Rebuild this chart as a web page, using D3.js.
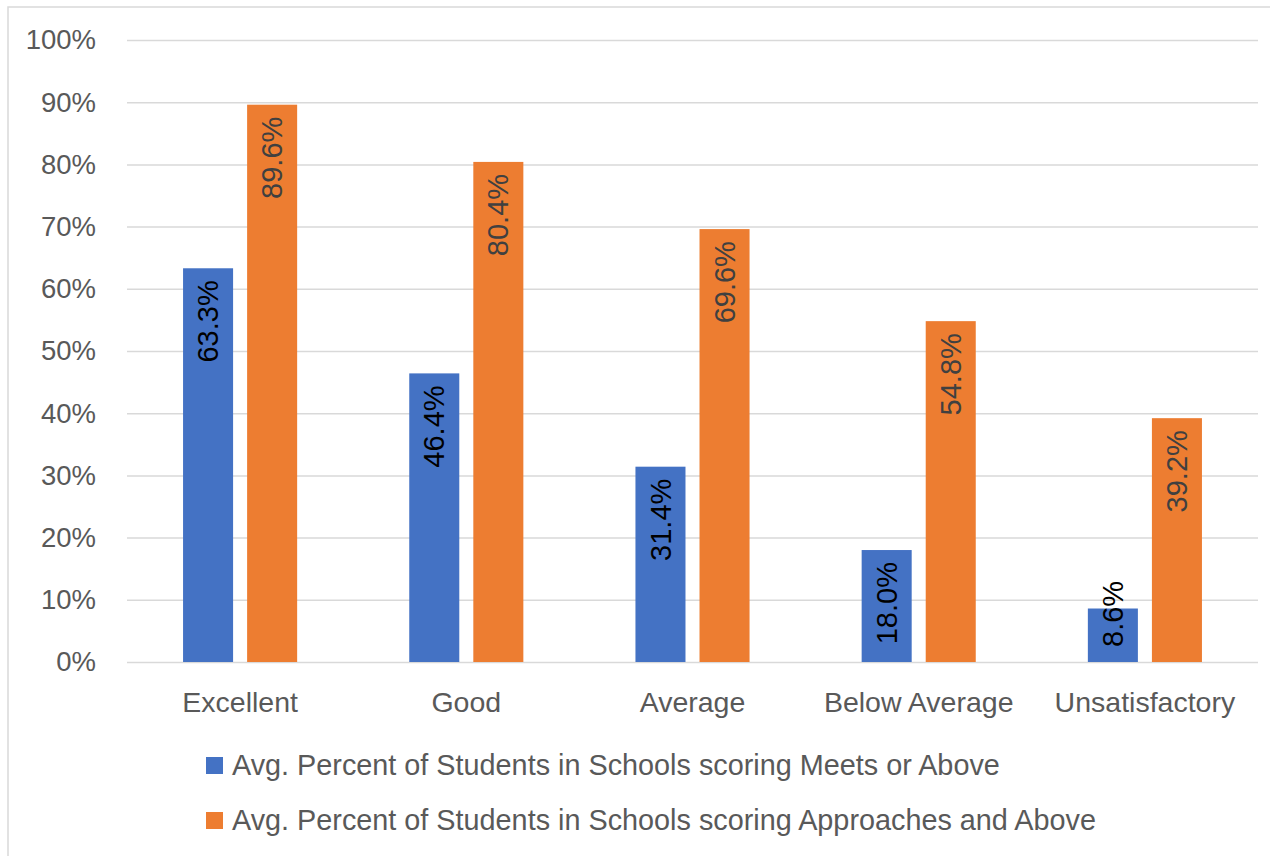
<!DOCTYPE html>
<html>
<head>
<meta charset="utf-8">
<script src="https://cdn.jsdelivr.net/npm/d3@7"></script>
<style>
  body { margin: 0; background: #fff; }
  text { font-family: "Liberation Sans", Arial, sans-serif; }
</style>
</head>
<body>
<script>
var categories = ['Excellent', 'Good', 'Average', 'Below Average', 'Unsatisfactory'];
var seriesNames = [
  'Avg. Percent of Students in Schools scoring Meets or Above',
  'Avg. Percent of Students in Schools scoring Approaches and Above'
];
var meetsValues = [63.3, 46.4, 31.4, 18.0, 8.6];
var approachesValues = [89.6, 80.4, 69.6, 54.8, 39.2];
var yTicks = [0, 10, 20, 30, 40, 50, 60, 70, 80, 90, 100];
var colors = ['#4472C4', '#ED7D31'];
var labelColors = ['#000000', '#404040'];

var fullWidth = 1270;
var fullHeight = 856;
var margin = {top: 40, right: 12, bottom: 194, left: 127};
var width = fullWidth - margin.left - margin.right;
var height = fullHeight - margin.top - margin.bottom;

var svgRoot = d3.select('body').append('svg')
  .attr('width', fullWidth)
  .attr('height', fullHeight);

// outer chart border (only left/top visible in the crop)
svgRoot.append('rect')
  .attr('x', 8).attr('y', 7)
  .attr('width', fullWidth + 10).attr('height', fullHeight + 10)
  .attr('fill', 'none')
  .attr('stroke', '#d9d9d9')
  .attr('stroke-width', 1.5);

var svg = svgRoot.append('g')
  .attr('transform', 'translate(' + margin.left + ',' + margin.top + ')');

var x0 = d3.scaleBand()
  .domain(categories)
  .range([0, width])
  .padding(0);

var x1 = d3.scaleBand()
  .domain([0, 1])
  .range([0, x0.bandwidth()])
  .paddingInner(0.219)
  .paddingOuter(0.875);

var y = d3.scaleLinear()
  .domain([0, 100])
  .range([height, 0]);

// gridlines
var yAxis = d3.axisLeft(y)
  .tickValues(yTicks)
  .tickSize(-width)
  .tickPadding(31)
  .tickFormat(function(d) { return d + '%'; });

var yAxisEle = svg.append('g')
  .classed('y axis', true)
  .call(yAxis);
yAxisEle.select('.domain').remove();
yAxisEle.selectAll('line')
  .attr('stroke', '#d9d9d9')
  .attr('stroke-width', 1.5);
yAxisEle.selectAll('text')
  .attr('fill', '#595959')
  .style('font-size', '27.5px');

// x axis labels
var xAxis = d3.axisBottom(x0).tickSize(0).tickPadding(30);
var xAxisEle = svg.append('g')
  .classed('x axis', true)
  .attr('transform', 'translate(0,' + height + ')')
  .call(xAxis);
xAxisEle.select('.domain').remove();
xAxisEle.selectAll('text')
  .attr('fill', '#595959')
  .style('font-size', '28.5px');

var rows = categories.map(function(c, i) {
  return {category: c, values: [meetsValues[i], approachesValues[i]]};
});

var groups = svg.append('g').classed('bar-holder', true)
  .selectAll('g')
  .data(rows)
  .enter().append('g')
    .attr('transform', function(d) { return 'translate(' + x0(d.category) + ',0)'; });

var bars = groups.selectAll('g.bar')
  .data(function(d) {
    return d.values.map(function(v, s) { return {series: s, value: v}; });
  })
  .enter().append('g').classed('bar', true);

bars.append('rect')
  .attr('x', function(d) { return x1(d.series); })
  .attr('y', function(d) { return y(d.value); })
  .attr('width', x1.bandwidth())
  .attr('height', function(d) { return height - y(d.value); })
  .attr('fill', function(d) { return colors[d.series]; });

bars.append('text')
  .attr('transform', function(d) {
    var cx = x1(d.series) + x1.bandwidth() / 2;
    return 'translate(' + cx + ',' + height + ')rotate(-90)';
  })
  .attr('dy', '0.35em')
  .attr('fill', function(d) { return labelColors[d.series]; })
  .style('font-size', '29px')
  .text(function(d) { return d.value.toFixed(1) + '%'; })
  .each(function(d) {
    var len = this.getComputedTextLength();
    var barH = height - y(d.value);
    var t = d3.select(this);
    if (barH < len + 20) {
      t.attr('text-anchor', 'start').attr('x', 15);
    } else {
      t.attr('text-anchor', 'end').attr('x', barH - 12);
    }
  });

// legend
var legend = svgRoot.append('g').classed('legend', true);
seriesNames.forEach(function(name, i) {
  var ly = 757 + i * 55;
  legend.append('rect')
    .attr('x', 206).attr('y', ly)
    .attr('width', 17).attr('height', 17)
    .attr('fill', colors[i]);
  legend.append('text')
    .attr('x', 232).attr('y', ly + 18)
    .attr('fill', '#595959')
    .style('font-size', '28.8px')
    .text(name);
});
</script>
</body>
</html>
